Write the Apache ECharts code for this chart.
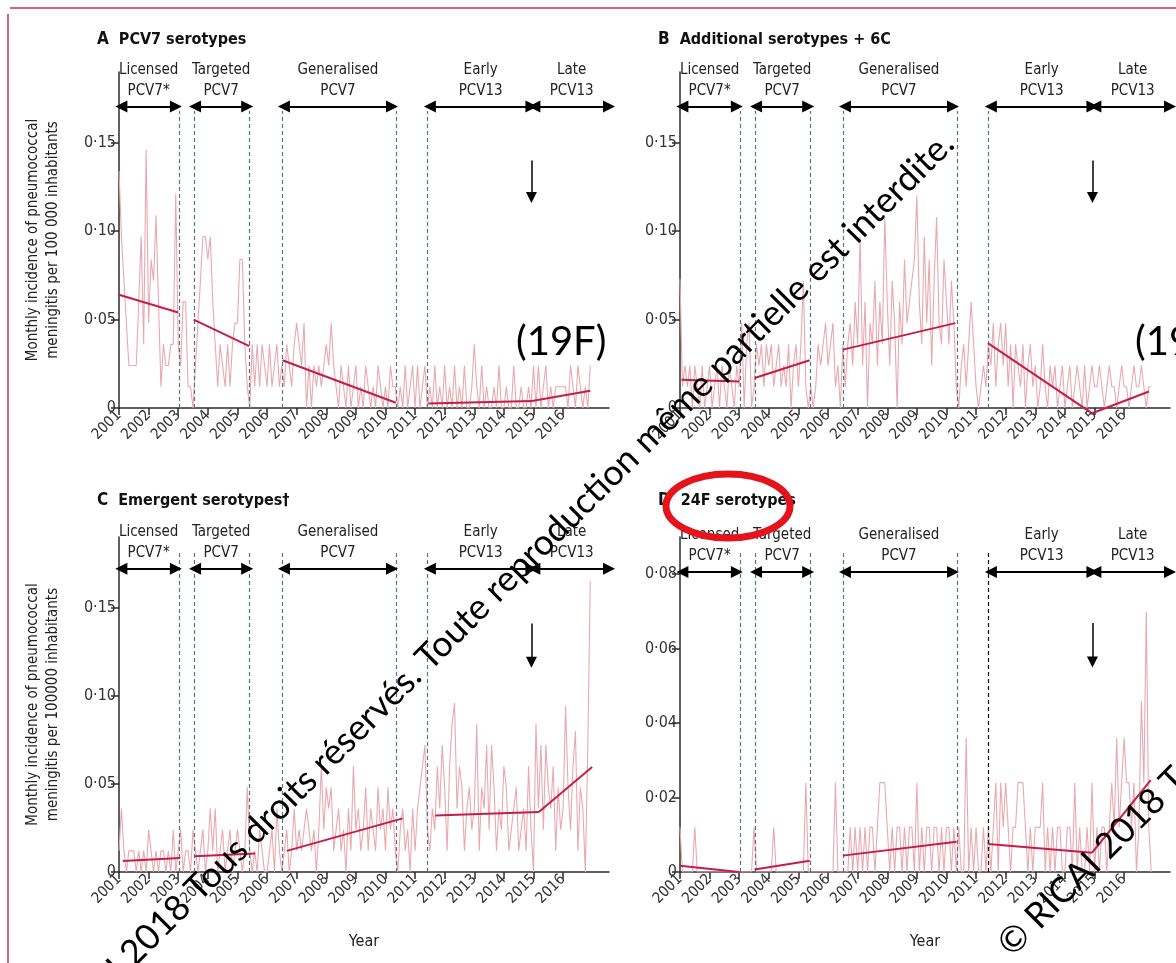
<!DOCTYPE html>
<html>
<head>
<meta charset="utf-8">
<title>Pneumococcal meningitis - serotype groups</title>
<script src="https://cdn.jsdelivr.net/npm/echarts@6/dist/echarts.min.js"></script>
<style>
html, body { margin: 0; padding: 0; background: #fff; }
#chart { width: 1176px; height: 963px; }
</style>
</head>
<body>
<div id="chart"></div>
<script>
var FONT = "'Liberation Sans Narrow', 'DejaVu Sans Condensed', 'Liberation Sans', sans-serif";

// x ticks (years) and vaccine periods
var yearTicks = [2001, 2002, 2003, 2004, 2005, 2006, 2007, 2008, 2009, 2010, 2011, 2012, 2013, 2014, 2015, 2016];
var periodNames = ['Licensed\nPCV7*', 'Targeted\nPCV7', 'Generalised\nPCV7', 'Early\nPCV13', 'Late\nPCV13'];
var periodStart = [2001.08, 2003.57, 2006.57, 2011.5, 2015.03];
var periodEnd = [2002.92, 2005.33, 2010.22, 2014.93, 2017.55];
var cutYears = [2003.03, 2003.53, 2005.39, 2006.5, 2010.35, 2011.4];

// monthly incidence, Jan 2001 -> Dec 2016 (one row per year)
var monthsA = [
	0.134, 0.097, 0.072, 0.048, 0.024, 0.024, 0.024, 0.024, 0.06, 0.097, 0.036, 0.146,
	0.048, 0.084, 0.072, 0.109, 0.06, 0.012, 0.036, 0.024, 0.024, 0.036, 0.036, 0.121,
	0.036, 0.024, 0.06, 0.06, 0.012, 0.012, 0, 0.024, 0.048, 0.072, 0.097, 0.097,
	0.084, 0.097, 0.06, 0.036, 0.012, 0.036, 0.024, 0.012, 0.036, 0.012, 0.036, 0.048,
	0.048, 0.084, 0.084, 0.036, 0.012, 0, 0.036, 0.012, 0.036, 0.012, 0.036, 0.024,
	0.012, 0.036, 0.012, 0.024, 0.036, 0.012, 0.024, 0.012, 0.036, 0.024, 0.012, 0.036,
	0.048, 0.036, 0.024, 0.048, 0, 0.024, 0, 0.024, 0.012, 0.024, 0.012, 0.024,
	0.036, 0.024, 0.048, 0.024, 0.012, 0, 0.024, 0.012, 0, 0.024, 0, 0.012,
	0.024, 0, 0.012, 0, 0.024, 0.012, 0, 0.012, 0, 0.024, 0.012, 0,
	0.012, 0, 0.024, 0.012, 0.012, 0, 0.012, 0, 0.024, 0, 0.012, 0.024,
	0, 0.024, 0, 0.012, 0.024, 0, 0.012, 0, 0.024, 0, 0.012, 0,
	0.024, 0, 0.012, 0, 0.024, 0, 0.012, 0, 0.024, 0, 0, 0.012,
	0.036, 0.012, 0, 0.024, 0, 0.012, 0, 0, 0.012, 0, 0.024, 0,
	0, 0.012, 0, 0, 0.024, 0, 0, 0.012, 0, 0, 0.012, 0,
	0.024, 0, 0.024, 0, 0.012, 0.024, 0, 0.012, 0, 0.012, 0.012, 0.012,
	0.012, 0.012, 0, 0.024, 0.012, 0, 0.024, 0.012, 0, 0.012, 0, 0.024
];
var monthsB = [
	0.073, 0.012, 0.024, 0.012, 0.024, 0, 0.024, 0.012, 0, 0.024, 0, 0.012,
	0.024, 0, 0.012, 0.024, 0, 0.024, 0.012, 0, 0.024, 0.012, 0, 0.024,
	0.012, 0.048, 0, 0.036, 0.048, 0, 0.012, 0.036, 0.024, 0.036, 0.012, 0.036,
	0.024, 0.036, 0.012, 0.024, 0.036, 0.012, 0.024, 0.012, 0.036, 0, 0.024, 0.036,
	0.012, 0.036, 0.072, 0.012, 0, 0.012, 0, 0.012, 0.036, 0.024, 0.036, 0.048,
	0.024, 0.036, 0.048, 0.012, 0.024, 0, 0.036, 0.012, 0.036, 0.048, 0.024, 0.06,
	0.036, 0.097, 0.024, 0.06, 0, 0.048, 0.036, 0.072, 0.024, 0.06, 0.036, 0.108,
	0.06, 0.024, 0.072, 0.048, 0, 0.06, 0.036, 0.084, 0.048, 0.06, 0.072, 0.084,
	0.12, 0.06, 0.036, 0.097, 0.048, 0.084, 0.024, 0.072, 0.108, 0.048, 0.036, 0.084,
	0.06, 0.036, 0.072, 0.048, 0.012, 0, 0.024, 0.036, 0.012, 0.036, 0.06, 0.036,
	0.012, 0, 0.012, 0.024, 0.012, 0.036, 0.024, 0.048, 0.012, 0.036, 0.048, 0.024,
	0.048, 0.012, 0.036, 0, 0.036, 0.024, 0.012, 0.036, 0, 0.024, 0.036, 0.012,
	0.024, 0, 0.012, 0.036, 0.012, 0, 0.024, 0.012, 0.024, 0, 0.012, 0.024,
	0, 0.012, 0.024, 0, 0.012, 0.024, 0.012, 0, 0.024, 0, 0.012, 0.024,
	0.012, 0.012, 0.024, 0.012, 0, 0.012, 0.024, 0.012, 0.012, 0, 0.012, 0.024,
	0.012, 0.012, 0, 0.012, 0.024, 0.012, 0.012, 0.024, 0.012, 0, 0.012, 0.012
];
var monthsC = [
	0.012, 0.036, 0.012, 0, 0.012, 0.012, 0.012, 0, 0.012, 0, 0.012, 0,
	0.024, 0.012, 0, 0.012, 0, 0.012, 0.012, 0, 0.012, 0, 0.024, 0,
	0.012, 0.024, 0, 0.012, 0.012, 0, 0.024, 0.012, 0, 0.012, 0.024, 0,
	0.012, 0.036, 0.012, 0.036, 0, 0.012, 0.024, 0, 0.012, 0.024, 0, 0.012,
	0.024, 0.012, 0, 0.012, 0.048, 0.012, 0, 0.012, 0, 0.024, 0.012, 0,
	0, 0.012, 0.024, 0, 0.036, 0.012, 0, 0.012, 0.024, 0, 0.012, 0.036,
	0.012, 0.024, 0.012, 0.024, 0.036, 0.024, 0.012, 0.024, 0, 0.024, 0.06, 0.024,
	0.048, 0.036, 0.048, 0.012, 0.024, 0.036, 0.012, 0.024, 0, 0.036, 0.012, 0.06,
	0.024, 0.036, 0.012, 0.024, 0.048, 0.012, 0.036, 0.024, 0.012, 0.048, 0.024, 0.036,
	0.012, 0.048, 0.024, 0.036, 0.012, 0, 0.024, 0.036, 0.012, 0.024, 0, 0.036,
	0.012, 0.036, 0.048, 0.06, 0.072, 0.024, 0.012, 0.036, 0.024, 0.06, 0.036, 0.072,
	0.048, 0.012, 0.06, 0.084, 0.096, 0.036, 0.06, 0.048, 0.012, 0.036, 0.048, 0.024,
	0.036, 0.084, 0.012, 0.048, 0.036, 0.072, 0.024, 0.072, 0.048, 0.012, 0.036, 0.024,
	0.06, 0.048, 0.012, 0.024, 0.036, 0.048, 0.012, 0.024, 0.036, 0.012, 0.06, 0.024,
	0, 0.084, 0.036, 0.072, 0.024, 0.072, 0.048, 0.036, 0.06, 0.012, 0.048, 0.024,
	0.036, 0.094, 0.048, 0.024, 0.06, 0.08, 0.012, 0.048, 0.036, 0, 0.07, 0.165
];
var monthsD = [
	0.012, 0, 0, 0, 0, 0, 0.012, 0, 0, 0, 0, 0,
	0, 0, 0, 0, 0, 0, 0, 0, 0, 0, 0, 0,
	0, 0, 0, 0, 0, 0, 0.012, 0, 0, 0, 0, 0,
	0, 0, 0.012, 0, 0, 0, 0, 0, 0, 0, 0, 0,
	0, 0, 0, 0.024, 0, 0, 0, 0, 0, 0, 0, 0,
	0, 0, 0, 0.024, 0, 0, 0, 0, 0, 0.012, 0, 0.012,
	0, 0.012, 0, 0.012, 0, 0.012, 0.012, 0, 0.012, 0.024, 0.024, 0.024,
	0.012, 0, 0.012, 0, 0.012, 0.012, 0, 0.012, 0, 0.012, 0.012, 0,
	0.024, 0, 0.012, 0, 0.012, 0.012, 0, 0.012, 0.012, 0, 0.012, 0,
	0.012, 0.012, 0, 0.012, 0, 0.012, 0, 0, 0.036, 0, 0.012, 0,
	0.012, 0, 0, 0.012, 0, 0.012, 0, 0.012, 0.024, 0, 0.024, 0.012,
	0.024, 0.012, 0, 0.012, 0.012, 0.024, 0.024, 0.024, 0.012, 0, 0.012, 0,
	0.012, 0.012, 0.012, 0.024, 0, 0.012, 0, 0.012, 0, 0.012, 0.012, 0,
	0, 0.012, 0.012, 0, 0.024, 0, 0.012, 0, 0, 0.012, 0, 0.024,
	0, 0.012, 0, 0.012, 0.012, 0, 0.012, 0.024, 0.012, 0.036, 0.012, 0.024,
	0.036, 0.024, 0.024, 0.012, 0.024, 0, 0.012, 0.046, 0.024, 0.07, 0.012, 0
];

// segmented regression lines: [x1, y1, x2, y2]
var trendA = [[2001.0, 0.064, 2003.0, 0.054], [2003.52, 0.050, 2005.4, 0.035], [2006.52, 0.027, 2010.35, 0.003],
	[2011.45, 0.0025, 2014.95, 0.004], [2014.95, 0.004, 2016.92, 0.0097]];
var trendB = [[2001.05, 0.016, 2003.0, 0.015], [2003.52, 0.017, 2005.38, 0.027], [2006.5, 0.033, 2010.3, 0.048],
	[2011.4, 0.0367, 2014.92, -0.003], [2014.92, -0.003, 2016.84, 0.0093]];
var trendC = [[2001.13, 0.0063, 2003.07, 0.008], [2003.55, 0.009, 2005.6, 0.0105], [2006.67, 0.012, 2010.58, 0.0304],
	[2011.68, 0.032, 2015.18, 0.034], [2015.18, 0.034, 2016.98, 0.0595]];
var trendD = [[2001.0, 0.0017, 2003.0, 0.0], [2003.52, 0.0007, 2005.38, 0.003], [2006.5, 0.0044, 2010.34, 0.0081],
	[2011.41, 0.0075, 2014.92, 0.0052], [2014.92, 0.0052, 2016.9, 0.0247]];

var option = {
	animation: false,
	backgroundColor: '#ffffff',
	title: [],
	grid: [],
	xAxis: [],
	yAxis: [],
	series: [],
	graphic: []
};

function fmtY(v) {
	if (v === 0) return '0';
	return v.toFixed(2).replace('.', '·');
}

function addPanel(p) {
	var k = option.grid.length;
	option.grid.push(p.grid);
	option.title.push({
		text: '{l|' + p.letter + '}  {t|' + p.title + '}',
		left: p.titleX,
		top: p.titleY,
		textStyle: {
			rich: {
				l: { fontFamily: FONT, fontSize: 17, color: '#111' },
				t: { fontFamily: FONT, fontSize: 16, fontWeight: 'bold', color: '#111' }
			}
		}
	});
	option.xAxis.push({
		type: 'value',
		gridIndex: k,
		min: 2001,
		max: 2017.55,
		name: p.xName || '',
		nameLocation: 'middle',
		nameGap: 62,
		nameTextStyle: { fontFamily: FONT, fontSize: 16, color: '#222' },
		splitLine: { show: false },
		axisLine: { lineStyle: { color: '#2b2b2b', width: 1.5 } },
		axisTick: { show: true, length: 7, customValues: yearTicks, lineStyle: { color: '#2b2b2b', width: 1.5 } },
		axisLabel: {
			customValues: yearTicks,
			rotate: 45,
			margin: 5,
			fontFamily: FONT,
			fontSize: 15,
			color: '#333',
			formatter: function (v) { return String(Math.round(v)); }
		}
	});
	option.yAxis.push({
		type: 'value',
		gridIndex: k,
		min: 0,
		max: p.yMax,
		name: p.yName || '',
		nameLocation: 'middle',
		nameGap: 56,
		nameTextStyle: { fontFamily: FONT, fontSize: 15, lineHeight: 20, color: '#222' },
		splitLine: { show: false },
		axisLine: { show: true, lineStyle: { color: '#2b2b2b', width: 1.5 } },
		axisTick: { show: true, length: 8, customValues: p.yTicks, lineStyle: { color: '#2b2b2b', width: 1.5 } },
		axisLabel: { customValues: p.yTicks, margin: 3, fontFamily: FONT, fontSize: 16, color: '#333', formatter: fmtY }
	});

	// monthly series
	var pts = [];
	for (var i = 0; i < p.months.length; i++) {
		pts.push([2001 + i / 12, p.months[i]]);
	}
	option.series.push({
		type: 'line',
		xAxisIndex: k,
		yAxisIndex: k,
		data: pts,
		symbol: 'none',
		silent: true,
		lineStyle: { color: '#e9a9af', width: 1.1 },
		z: 2
	});

	// period borders (dashed)
	option.series.push({
		type: 'lines',
		coordinateSystem: 'cartesian2d',
		xAxisIndex: k,
		yAxisIndex: k,
		silent: true,
		clip: false,
		data: cutYears.map(function (x, j) {
			return {
				coords: [[x, 0], [x, p.dashTop]],
				lineStyle: { color: (p.darkCut === j) ? '#111111' : '#5b7380' }
			};
		}),
		lineStyle: { type: [4, 3], width: 1.2, opacity: 1, curveness: 0 },
		z: 3
	});

	// trend segments
	option.series.push({
		type: 'lines',
		coordinateSystem: 'cartesian2d',
		xAxisIndex: k,
		yAxisIndex: k,
		silent: true,
		clip: false,
		data: p.trend.map(function (s) {
			return { coords: [[s[0], s[1]], [s[2], s[3]]] };
		}),
		lineStyle: { color: '#c41d4c', width: 2, opacity: 1, curveness: 0 },
		z: 4
	});

	// period arrows with names
	option.series.push({
		type: 'lines',
		coordinateSystem: 'cartesian2d',
		xAxisIndex: k,
		yAxisIndex: k,
		silent: true,
		clip: false,
		symbol: ['triangle', 'triangle'],
		symbolSize: 12,
		data: periodNames.map(function (n, j) {
			return { name: n, coords: [[periodStart[j], p.arrowY], [periodEnd[j], p.arrowY]] };
		}),
		lineStyle: { color: '#000', width: 2, opacity: 1, curveness: 0 },
		label: {
			show: true,
			position: 'insideMiddleTop',
			distance: 5,
			formatter: '{b}',
			fontFamily: FONT,
			fontSize: 15,
			lineHeight: 21,
			color: '#222'
		},
		z: 5
	});

	// down arrow (start of late PCV13)
	option.series.push({
		type: 'lines',
		coordinateSystem: 'cartesian2d',
		xAxisIndex: k,
		yAxisIndex: k,
		silent: true,
		clip: false,
		symbol: ['none', 'triangle'],
		symbolSize: 11,
		data: [{ coords: [[p.down[0], p.down[1]], [p.down[0], p.down[2]]] }],
		lineStyle: { color: '#000', width: 1.5, opacity: 1, curveness: 0 },
		z: 5
	});
}

var yNameA = 'Monthly incidence of pneumococcal\nmeningitis per 100 000 inhabitants';
var yNameC = 'Monthly incidence of pneumococcal\nmeningitis per 100000 inhabitants';

addPanel({
	letter: 'A', title: 'PCV7 serotypes', titleX: 92, titleY: 26,
	grid: { left: 119, top: 72, width: 490, height: 336 },
	yMax: 0.19, yTicks: [0, 0.05, 0.1, 0.15], yName: yNameA,
	months: monthsA, trend: trendA,
	arrowY: 0.1705, dashTop: 0.168, down: [2014.93, 0.140, 0.119]
});
addPanel({
	letter: 'B', title: 'Additional serotypes + 6C', titleX: 653, titleY: 26,
	grid: { left: 680, top: 72, width: 490, height: 336 },
	yMax: 0.19, yTicks: [0, 0.05, 0.1, 0.15],
	months: monthsB, trend: trendB,
	arrowY: 0.1705, dashTop: 0.168, down: [2014.93, 0.140, 0.119]
});
addPanel({
	letter: 'C', title: 'Emergent serotypes†', titleX: 92, titleY: 487,
	grid: { left: 119, top: 537, width: 490, height: 335 },
	yMax: 0.19, yTicks: [0, 0.05, 0.1, 0.15], yName: yNameC, xName: 'Year',
	months: monthsC, trend: trendC,
	arrowY: 0.172, dashTop: 0.182, down: [2014.93, 0.141, 0.119]
});
addPanel({
	letter: 'D', title: '24F serotypes', titleX: 653, titleY: 487,
	grid: { left: 680, top: 537, width: 490, height: 335 },
	yMax: 0.09, yTicks: [0, 0.02, 0.04, 0.06, 0.08], xName: 'Year',
	months: monthsD, trend: trendD, darkCut: 5,
	arrowY: 0.0806, dashTop: 0.086, down: [2014.93, 0.0669, 0.0564]
});

// slide overlays: frame, copyright notes, serotype notes, highlight ring
var deg = Math.PI / 180;
option.graphic = [
	{ type: 'line', z: 50, shape: { x1: 10, y1: 8, x2: 1176, y2: 8 }, style: { stroke: '#c8325a', lineWidth: 1.5 } },
	{ type: 'line', z: 50, shape: { x1: 8, y1: 14, x2: 8, y2: 963 }, style: { stroke: '#c8325a', lineWidth: 1.5 } },
	{
		type: 'text', z: 60, x: 948, y: 138, rotation: 45 * deg,
		style: {
			text: '© RICAI 2018 Tous droits réservés. Toute reproduction même partielle est interdite.',
			fontFamily: 'Lato', fontSize: 35.5, fill: '#000', align: 'right', verticalAlign: 'middle'
		}
	},
	{
		type: 'text', z: 60, x: 1004, y: 950, rotation: 45 * deg,
		style: {
			text: '© RICAI 2018 Tous droits réservés.',
			fontFamily: 'Lato', fontSize: 35.5, fill: '#000', align: 'left', verticalAlign: 'middle'
		}
	},
	{
		type: 'text', z: 60, x: 516, y: 342,
		style: { text: '(19F)', fontFamily: 'Lato', fontSize: 40, fill: '#000', verticalAlign: 'middle' }
	},
	{
		type: 'text', z: 60, x: 1135, y: 342,
		style: { text: '(19A)', fontFamily: 'Lato', fontSize: 40, fill: '#000', verticalAlign: 'middle' }
	},
	{
		type: 'ellipse', z: 70, shape: { cx: 728, cy: 506, rx: 62, ry: 32 },
		style: { fill: 'transparent', stroke: '#e3141b', lineWidth: 7 }
	}
];

var myChart = echarts.init(document.getElementById('chart'), null, { renderer: 'canvas' });
myChart.setOption(option);
</script>
</body>
</html>
